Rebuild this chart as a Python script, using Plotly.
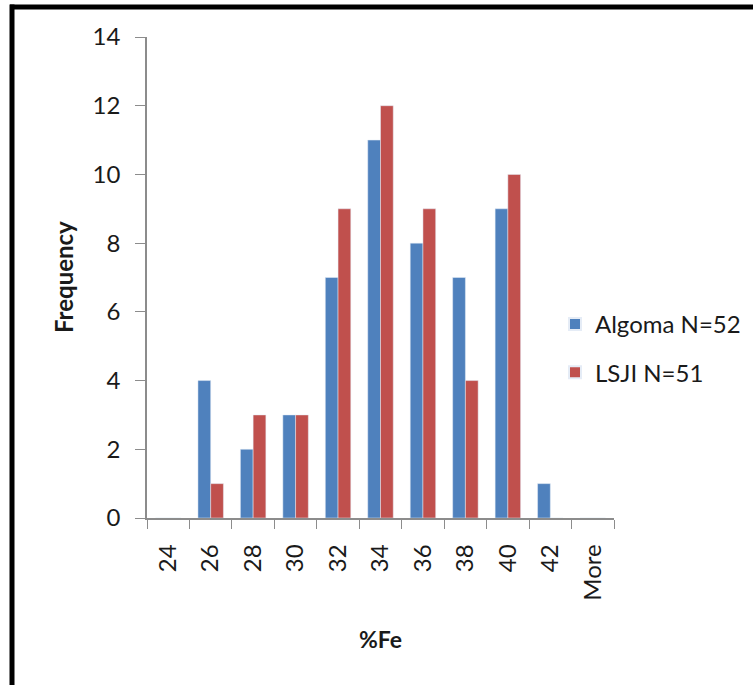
import plotly.graph_objects as go

# Histogram bins of %Fe and the counts per bin for each population
bins = ["24", "26", "28", "30", "32", "34", "36", "38", "40", "42", "More"]
algoma = [0, 4, 2, 3, 7, 11, 8, 7, 9, 1, 0]
lsji = [0, 1, 3, 3, 9, 12, 9, 4, 10, 0, 0]
y_ticks = [0, 2, 4, 6, 8, 10, 12, 14]

W, H = 753, 685
L, R, T, B = 147, 139, 37, 167
pw, ph = W - L - R, H - T - B

FONT = "Lato, 'Open Sans', sans-serif"
AXIS = "#8c8c8c"
TXT = "#1a1a1a"

fig = go.Figure()
fig.add_trace(go.Bar(x=bins, y=algoma, name="Algoma N=52", marker_color="#4F81BD",
                     legendgroup="a"))
fig.add_trace(go.Bar(x=bins, y=lsji, name="LSJI N=51", marker_color="#C0504D",
                     legendgroup="b"))


def px_x(p):
    return (p - L) / pw


def px_y(p):
    return (H - B - p) / ph


# frame around the chart: thick top and left edges
fig.add_shape(type="line", xref="paper", yref="paper",
              x0=px_x(10), x1=px_x(W + 5), y0=px_y(7), y1=px_y(7),
              line=dict(color="black", width=5))
fig.add_shape(type="line", xref="paper", yref="paper",
              x0=px_x(12), x1=px_x(12), y0=px_y(4.5), y1=px_y(H + 5),
              line=dict(color="black", width=5))

# axis titles
fig.add_annotation(text="<b>Frequency</b>", xref="paper", yref="paper",
                   x=px_x(63), y=px_y(277), xanchor="center", yanchor="middle",
                   textangle=-90, showarrow=False,
                   font=dict(size=24, color=TXT))
fig.add_annotation(text="<b>%Fe</b>", xref="paper", yref="paper",
                   x=px_x(380), y=px_y(639), xanchor="center", yanchor="middle",
                   showarrow=False, font=dict(size=23, color=TXT))

fig.update_layout(
    width=W, height=H,
    margin=dict(l=L, r=R, t=T, b=B, autoexpand=False),
    paper_bgcolor="white", plot_bgcolor="white",
    barmode="group", bargap=0.4, bargroupgap=0,
    font=dict(family=FONT, size=24, color=TXT),
    showlegend=True,
    legend=dict(x=px_x(555), y=px_y(302), xanchor="left", yanchor="top",
                font=dict(size=24), tracegroupgap=14, traceorder="grouped",
                itemsizing="constant", bgcolor="rgba(0,0,0,0)", itemwidth=30),
    xaxis=dict(
        type="category", tickangle=-90, ticks="outside", tickson="boundaries",
        ticklen=9, tickcolor=AXIS, showline=True, linecolor=AXIS, linewidth=1.5,
        showgrid=False, ticklabelstandoff=15,
    ),
    yaxis=dict(
        range=[0, 14], tickvals=y_ticks, ticks="outside", ticklen=10,
        tickcolor=AXIS, showline=True, linecolor=AXIS, linewidth=1.5,
        showgrid=False, zeroline=False, ticklabelstandoff=10,
    ),
)

fig.write_html("out.html")
